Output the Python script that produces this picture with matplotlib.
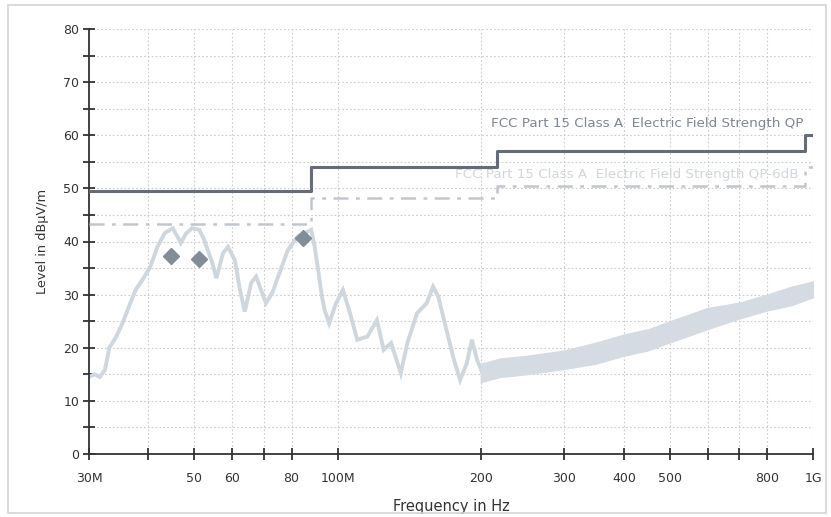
import numpy as np
import matplotlib
matplotlib.use("Agg")
import matplotlib.pyplot as plt
from matplotlib.patches import Rectangle
from matplotlib.ticker import FixedLocator, NullFormatter, MultipleLocator

# ---- data ----
trace_freq = [30, 30.8, 31.6, 32.4, 33.1, 34.2, 35.3, 36.5, 37.6, 39, 40.4, 41.8, 43.3, 45, 46,
              46.8, 48, 49.4, 51.2, 52.3, 53.3, 54.5, 55.6, 57.4, 58.8, 60.8, 62.3, 63.8, 65.8,
              67.4, 69, 70.7, 73, 75, 78.6, 82.3, 85, 88, 89.5, 91, 92.7, 94, 96, 99.3, 102.6,
              106.2, 110, 115.5, 121, 125, 129.6, 135.8, 140.2, 146.9, 154, 158.8, 162.9, 169.4,
              175, 181, 187, 191.7, 196.6, 203]
trace_level = [14.5, 15, 14.5, 15.8, 20, 22, 24.7, 28, 30.9, 33, 35.3, 39, 41.6, 42.5, 41,
               39.7, 41.5, 42.5, 42.2, 40.5, 38.4, 36, 33.1, 37.8, 39, 36.5, 31, 26.8, 32.2,
               33.4, 30.9, 28.4, 30.5, 33.4, 38.4, 40.9, 41.5, 42.2, 39, 34.7, 29.6, 27, 24.6, 28.4, 30.9,
               26.5, 21.5, 22.1, 25.2, 19.6, 20.9, 15.2, 20.9, 26.5, 28.4, 31.5, 29.6, 23.4,
               18.3, 13.9, 17.1, 21.5, 17.7, 14.6]

band_freq = [200, 220, 250, 300, 350, 400, 450, 500, 600, 700, 800, 900, 1000]
band_low = [13.5, 14.5, 15.0, 16.0, 17.0, 18.5, 19.5, 21.0, 23.5, 25.5, 27.0, 28.0, 29.5]
band_high = [17.0, 18.0, 18.5, 19.5, 21.0, 22.5, 23.5, 25.0, 27.5, 28.5, 30.0, 31.5, 32.5]

peak_freq = [44.6, 51.2, 84.4]
peak_level = [37.2, 36.7, 40.6]

limit_freq = [30, 88, 88, 216, 216, 960, 960, 1000]
limit_qp = [49.5, 49.5, 54, 54, 57, 57, 60, 60]
limit_6db = [43.2, 43.2, 48.2, 48.2, 50.5, 50.5, 54, 54]

xtick_vals = [30, 40, 50, 60, 70, 80, 100, 200, 300, 400, 500, 600, 700, 800, 1000]
xtick_labels = ["30M", "", "50", "60", "", "80", "100M", "200", "300", "400", "500", "", "", "800", "1G"]

# ---- figure ----
W, H = 831, 517
fig = plt.figure(figsize=(W / 100, H / 100), dpi=100)
fig.patches.append(Rectangle((8 / W, 4 / H), 818 / W, 508 / H, transform=fig.transFigure,
                             fill=False, edgecolor="#d4d4d4", linewidth=1.2))

ax = fig.add_axes([89 / W, 1 - 454 / H, (813 - 89) / W, (454 - 29) / H])
ax.set_xscale("log")
ax.set_xlim(30, 1000)
ax.set_ylim(0, 80)

# grid
for xv in xtick_vals[1:]:
    ax.axvline(xv, color="#cccccc", linestyle=(0, (1.5, 2)), linewidth=0.8, zorder=0)
for yv in range(5, 81, 5):
    ax.axhline(yv, color="#cccccc", linestyle=(0, (1.5, 2)), linewidth=0.8, zorder=0)

trace_col = "#cfd7de"
ax.plot(trace_freq, trace_level, color=trace_col, linewidth=2.8, solid_joinstyle="miter", zorder=2)
ax.fill_between(band_freq, band_low, band_high, color="#d4dbe2", linewidth=0.8,
                edgecolor="#d4dbe2", zorder=2)

ax.plot(limit_freq, limit_6db, color="#c2c6cc", linewidth=1.8,
        linestyle=(0, (6, 3, 1.5, 3)), zorder=3)
ax.plot(limit_freq, limit_qp, color="#636c77", linewidth=2.2, zorder=4)

ax.plot(peak_freq, peak_level, linestyle="none", marker="D", markersize=8,
        color="#828d9a", markeredgecolor="#828d9a", zorder=5)

ax.text(955, 61.0, "FCC Part 15 Class A  Electric Field Strength QP", ha="right", va="bottom",
        fontsize=9.7, color="#7f8792")
ax.text(935, 51.4, "FCC Part 15 Class A  Electric Field Strength QP-6dB", ha="right", va="bottom",
        fontsize=9.7, color="#d2d6dc")

# axes styling
for s in ["top", "right"]:
    ax.spines[s].set_visible(False)
for s in ["left", "bottom"]:
    ax.spines[s].set_color("#333333")
    ax.spines[s].set_linewidth(1.3)

ax.xaxis.set_major_locator(FixedLocator(xtick_vals))
ax.set_xticklabels(xtick_labels)
ax.xaxis.set_minor_locator(FixedLocator([]))
ax.xaxis.set_minor_formatter(NullFormatter())
ax.yaxis.set_major_locator(MultipleLocator(10))
ax.yaxis.set_minor_locator(MultipleLocator(5))
ax.tick_params(axis="both", which="both", direction="inout", length=8, width=1.3,
               color="#333333", labelsize=9, labelcolor="#333333")
ax.tick_params(axis="x", pad=9)
ax.tick_params(axis="y", pad=3)

ax.set_xlabel("Frequency in Hz", fontsize=10.5, color="#333333", labelpad=10)
ax.set_ylabel("Level in dBµV/m", fontsize=9.3, color="#333333", labelpad=10)

fig.savefig("out.png", dpi=100)
